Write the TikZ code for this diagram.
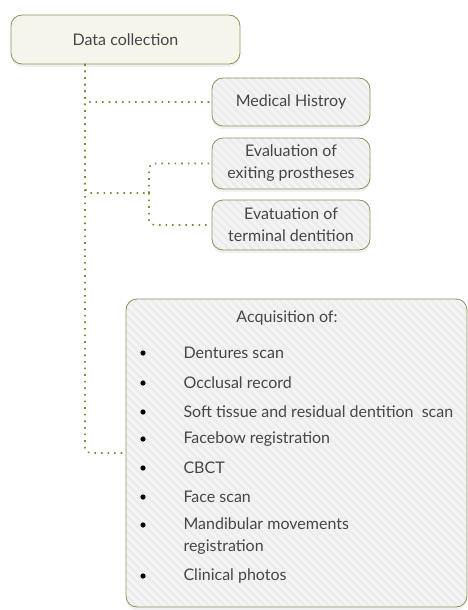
\documentclass[tikz,border=0pt]{standalone}
\usepackage{fontspec}
\setmainfont{Lato}
\usetikzlibrary{shadows}

\definecolor{olive}{RGB}{140,148,90}
\definecolor{dotgreen}{RGB}{125,140,60}
\definecolor{cream}{RGB}{245,245,235}
\definecolor{paper}{RGB}{236,236,236}
\definecolor{ink}{RGB}{70,70,70}

\begin{document}
\begin{tikzpicture}[x=1pt, y=-1pt,
    font=\fontsize{16}{22}\selectfont, text=ink,
    box/.style={draw=olive, line width=.8pt, rounded corners=11pt,
      drop shadow={shadow xshift=0pt, shadow yshift=-3pt, opacity=.12},
      align=center, inner sep=0pt},
    stripes/.style={path picture={
      \foreach \k in {-420,-412,...,420}
        \draw[white, line width=2.5pt, opacity=.45]
          ([xshift=\k pt]path picture bounding box.north west) -- ++(420,420);}},
    topic/.style={box, fill=paper, stripes, minimum width=158pt},
    link/.style={draw=dotgreen, line width=1.6pt, dash pattern=on 1.6pt off 5pt,
      rounded corners=5pt}]
  \useasboundingbox (0,0) rectangle (468,610);

  % Boxes
  \node[box, fill=cream, minimum width=229pt, minimum height=49pt] (data) at (125.5,39.5) {Data collection};
  \node[topic, minimum height=48pt] (hist) at (291,102) {Medical Histroy};
  \node[topic, minimum height=51pt] (prost) at (291,163.5) {Evaluation of\\exiting prostheses};
  \node[topic, minimum height=50pt] (dent) at (291,225) {Evatuation of\\terminal dentition};
  \node[topic, minimum width=341pt, minimum height=308pt] (acq) at (296.5,453) {};

  % Acquisition list
  \node (title) at (287,318) {Acquisition of:};
  \foreach \y/\b/\txt [count=\i] in {353/353/Dentures scan, 383/383/Occlusal record,
      412/412/Soft tissue and residual dentition\ \ scan, 439/439/Facebow registration,
      468/468/CBCT, 497/497/Face scan, 536/525/{Mandibular movements\\registration},
      576/576/Clinical photos}{
    \node[anchor=west, align=left] (item\i) at (180,\y) {\txt};
    \fill[black] (143,\b) circle (2.6pt);
  }

  % Connectors
  \coordinate (spine) at (85,64);
  \coordinate (fork) at (149,193);
  \draw[link] (spine) |- (hist.west);
  \draw[link] (spine) |- (fork);
  \draw[link] (fork) |- (prost.west);
  \draw[link] (fork) |- (dent.west);
  \draw[link] (spine) |- (acq.west);
\end{tikzpicture}
\end{document}
